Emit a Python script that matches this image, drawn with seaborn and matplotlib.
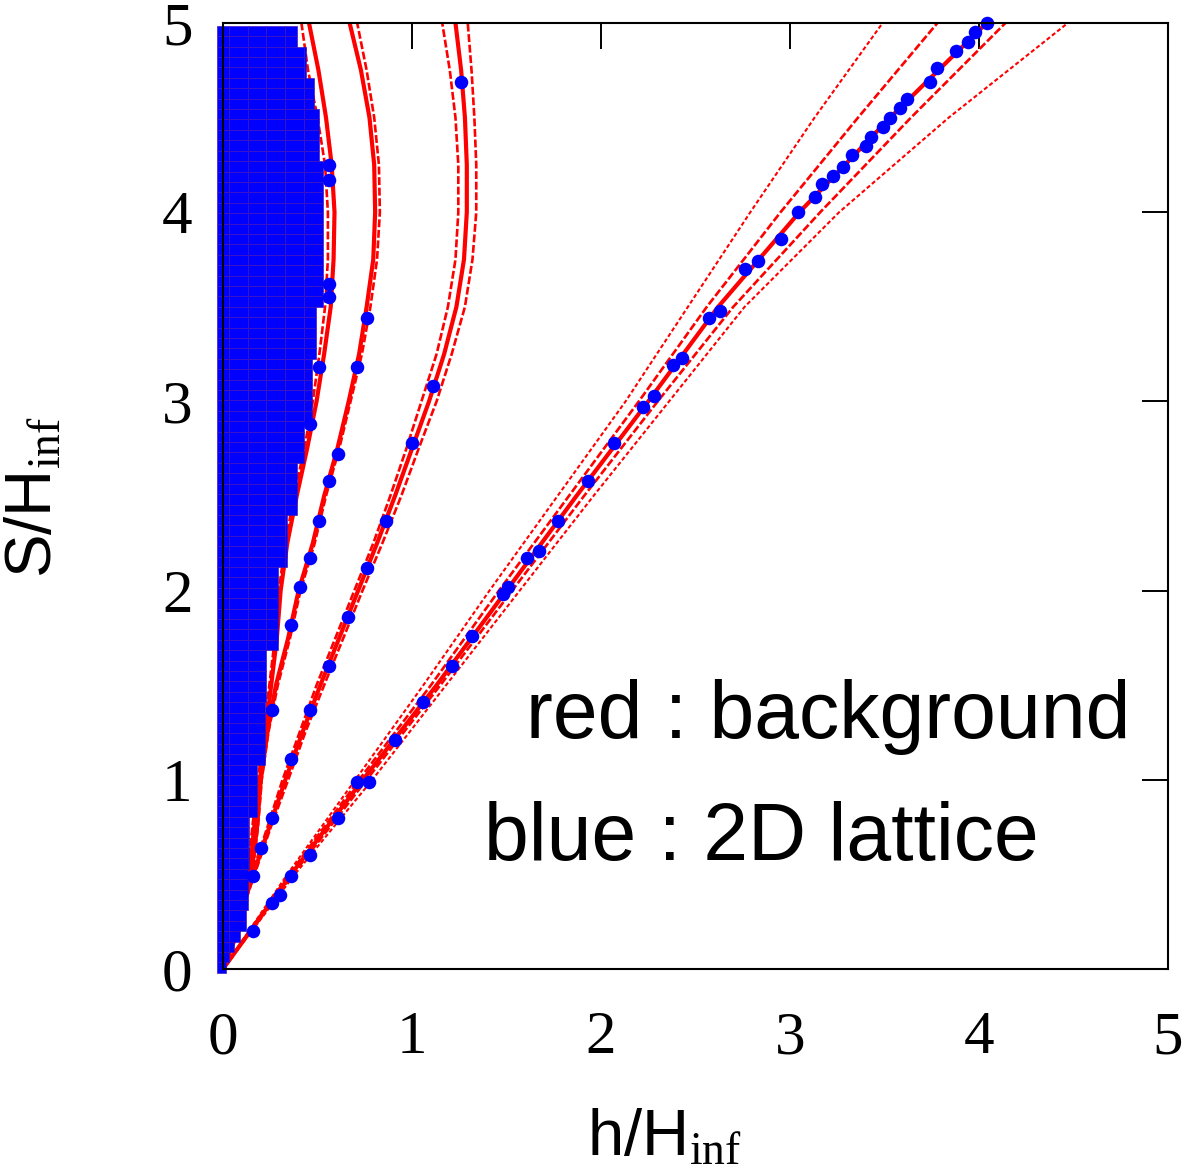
import numpy as np
import pandas as pd
import matplotlib
matplotlib.use("Agg")
import matplotlib.pyplot as plt
import seaborn as sns

# ---------------- data ----------------
S_fine = [0.0, 0.25, 0.5, 0.75, 1.0, 1.25, 1.5, 1.75, 2.0, 2.25, 2.5,
          2.75, 3.0, 3.25, 3.5, 3.75, 4.0, 4.25, 4.5, 4.75, 5.0]
S_coarse = [0.0, 0.5, 1.0, 1.5, 2.0, 2.5, 3.0, 3.5, 4.0, 4.5, 5.0]

# background (red) curves, h/H_inf at each S/H_inf
fam1_a = [0, 0.10, 0.14, 0.165, 0.195, 0.225, 0.255, 0.285, 0.305, 0.34, 0.39,
          0.445, 0.495, 0.535, 0.57, 0.585, 0.59, 0.575, 0.545, 0.505, 0.455]
fam1_b = [0, 0.09, 0.13, 0.155, 0.185, 0.215, 0.245, 0.275, 0.295, 0.33, 0.375,
          0.43, 0.475, 0.51, 0.54, 0.555, 0.555, 0.54, 0.50, 0.45, 0.415]
fam2_a = [0, 0.08, 0.15, 0.18, 0.20, 0.235, 0.28, 0.345, 0.40, 0.475, 0.535,
          0.605, 0.665, 0.72, 0.76, 0.795, 0.805, 0.80, 0.775, 0.73, 0.67]
fam2_b = [0, 0.085, 0.155, 0.185, 0.205, 0.24, 0.29, 0.355, 0.41, 0.485, 0.545,
          0.615, 0.675, 0.735, 0.78, 0.815, 0.83, 0.825, 0.80, 0.76, 0.71]
fam3_a = [0, 0.076, 0.152, 0.235, 0.315, 0.405, 0.495, 0.595, 0.695, 0.795, 0.885,
          0.97, 1.05, 1.13, 1.19, 1.23, 1.245, 1.245, 1.23, 1.20, 1.16]
fam3_b = [0, 0.08, 0.16, 0.245, 0.33, 0.42, 0.515, 0.615, 0.715, 0.815, 0.91,
          1.00, 1.09, 1.17, 1.235, 1.275, 1.29, 1.29, 1.28, 1.26, 1.23]
fam3_c = [0, 0.083, 0.167, 0.253, 0.345, 0.435, 0.535, 0.637, 0.738, 0.843, 0.943,
          1.035, 1.13, 1.21, 1.28, 1.32, 1.34, 1.34, 1.33, 1.315, 1.295]
fam4_a = [0, 0.34, 0.70, 1.06, 1.41, 1.77, 2.13, 2.46, 2.79, 3.13, 3.49]
fam4_b = [0, 0.35, 0.72, 1.10, 1.46, 1.83, 2.20, 2.56, 2.95, 3.36, 3.78]
fam4_c = [0, 0.36, 0.74, 1.13, 1.50, 1.87, 2.25, 2.62, 3.05, 3.53, 4.04]
fam4_d = [0, 0.37, 0.76, 1.15, 1.53, 1.91, 2.30, 2.70, 3.16, 3.64, 4.14]
fam4_e = [0, 0.38, 0.79, 1.18, 1.57, 1.96, 2.36, 2.76, 3.26, 3.84, 4.47]

# 2D lattice (blue) points lying on the curves
lat_dots_h = [
    # family 4
    0.16, 0.26, 0.30, 0.36, 0.46, 0.61, 0.71, 0.77, 0.91, 1.06, 1.21, 1.32,
    1.48, 1.51, 1.61, 1.67, 1.77, 1.93, 2.07, 2.22, 2.28, 2.38, 2.43, 2.57,
    2.63, 2.76, 2.83, 2.95, 3.04, 3.13, 3.17, 3.23, 3.28, 3.33, 3.40, 3.43,
    3.49, 3.53, 3.58, 3.62, 3.74, 3.78, 3.88, 3.94, 3.98, 4.04,
    # family 3
    0.16, 0.20, 0.26, 0.36, 0.46, 0.56, 0.66, 0.76, 0.86, 1.00, 1.11, 1.26,
    # family 2
    0.26, 0.36, 0.41, 0.46, 0.51, 0.56, 0.61, 0.71, 0.76,
    # family 1
    0.46, 0.51, 0.56, 0.56, 0.56, 0.56]
lat_dots_S = [
    0.20, 0.35, 0.39, 0.49, 0.60, 0.80, 0.99, 0.99, 1.21, 1.41, 1.60, 1.76,
    1.98, 2.02, 2.17, 2.21, 2.37, 2.58, 2.78, 2.97, 3.03, 3.19, 3.23, 3.44,
    3.48, 3.70, 3.74, 3.86, 4.00, 4.08, 4.15, 4.19, 4.24, 4.30, 4.35, 4.40,
    4.45, 4.50, 4.55, 4.60, 4.69, 4.76, 4.85, 4.90, 4.95, 5.00,
    0.49, 0.64, 0.80, 1.11, 1.37, 1.60, 1.86, 2.12, 2.37, 2.78, 3.08, 4.69,
    1.37, 1.82, 2.02, 2.17, 2.37, 2.58, 2.72, 3.18, 3.44,
    2.88, 3.18, 3.55, 3.62, 4.17, 4.25]

# filled 2D-lattice region: right edge (h) for bands of S up to S_top
lattice_band_S_top = [0.05, 0.10, 0.17, 0.22, 0.30, 0.51, 0.80, 1.10, 1.40,
                      1.70, 2.10, 2.40, 2.70, 2.90, 3.20, 3.50, 4.10, 4.29,
                      4.52, 4.73, 4.90, 5.03]
lattice_band_h_edge = [0.015, 0.03, 0.06, 0.09, 0.12, 0.13, 0.14, 0.18, 0.22,
                       0.23, 0.29, 0.34, 0.39, 0.43, 0.47, 0.49, 0.53, 0.53,
                       0.51, 0.48, 0.44, 0.39]

ticks = [0, 1, 2, 3, 4, 5]
tick_labels = ["0", "1", "2", "3", "4", "5"]
x_label = r"h/H$_{\mathrm{inf}}$"
y_label = r"S/H$_{\mathrm{inf}}$"
note_red = "red : background"
note_blue = "blue : 2D lattice"

# ---------------- style ----------------
sns.set_theme(style="white")
plt.rcParams.update({
    "font.family": ["Liberation Sans", "DejaVu Sans"],
    "mathtext.fontset": "custom",
    "mathtext.rm": "Liberation Serif",
    "mathtext.it": "Liberation Serif:italic",
    "axes.edgecolor": "black",
    "axes.linewidth": 1.5,
    "text.color": "black",
    "axes.labelcolor": "black",
    "xtick.color": "black",
    "ytick.color": "black",
})

RED = "#ff0000"
BLUE = "#0000ff"
GRID_PURPLE = "#4010b8"

fig = plt.figure(figsize=(11.95, 11.71), dpi=100)
ax = fig.add_axes([223 / 1195, 1 - 969 / 1171, 945 / 1195, 946 / 1171])

# red background curves
fine_lines = [(fam1_a, "main"), (fam1_b, "side"),
              (fam2_a, "main"), (fam2_b, "side"),
              (fam3_a, "side"), (fam3_b, "main"), (fam3_c, "side")]
coarse_lines = [(fam4_a, "thin"), (fam4_b, "side"), (fam4_c, "main"),
                (fam4_d, "side"), (fam4_e, "thin")]
styles = {"main": dict(linewidth=3.0, linestyle="-"),
          "side": dict(linewidth=1.9, linestyle=(0, (3, 1))),
          "thin": dict(linewidth=1.5, linestyle=(0, (2, 1.2)))}
for hv, st in fine_lines:
    sns.lineplot(x=hv, y=S_fine, sort=False, estimator=None, color=RED,
                 ax=ax, zorder=2, **styles[st])
for hv, st in coarse_lines:
    sns.lineplot(x=hv, y=S_coarse, sort=False, estimator=None, color=RED,
                 ax=ax, zorder=2, **styles[st])

# filled 2D lattice region drawn as lattice cells
row_h = 0.055
col_edges = [-0.03, 0.03, 0.13, 0.23, 0.33, 0.43, 0.53, 0.63]
band_top = np.array(lattice_band_S_top)
for y0 in np.arange(-0.02, 4.98, row_h):
    yc = y0 + row_h / 2
    idx = min(int(np.searchsorted(band_top, yc)), len(band_top) - 1)
    he = lattice_band_h_edge[idx]
    segs = []
    for c0, c1 in zip(col_edges[:-1], col_edges[1:]):
        if c0 >= he:
            break
        segs.append((c0, min(c1, he) - c0))
    ax.broken_barh(segs, (y0, row_h), facecolors=BLUE, edgecolors=GRID_PURPLE,
                   linewidth=0.45, zorder=3, clip_on=False)

# blue lattice points on curves
sns.scatterplot(x=lat_dots_h, y=lat_dots_S, color=BLUE, s=95, marker="o",
                linewidth=0, ax=ax, zorder=4, clip_on=False)

# axes
ax.set_xlim(0, 5)
ax.set_ylim(0, 5)
ax.set_xticks(ticks)
ax.set_yticks(ticks)
ax.set_xticklabels(tick_labels, family="Liberation Serif", fontsize=44)
ax.set_yticklabels(tick_labels, family="Liberation Serif", fontsize=44)
ax.tick_params(axis="both", direction="in", length=19, width=1.4,
               color="black", top=True, right=True)
ax.tick_params(axis="x", pad=30)
ax.tick_params(axis="y", pad=22)
for sp in ax.spines.values():
    sp.set_zorder(10)
    sp.set_linewidth(1.5)

ax.set_xlabel(x_label, fontsize=47)
ax.set_ylabel(y_label, fontsize=47)
ax.xaxis.set_label_coords((664 - 223) / 945, (969 - 1108) / 946)
ax.yaxis.set_label_coords((64 - 223) / 945, (969 - 497) / 946)

ax.text(4.80, 1.22, note_red, ha="right", va="baseline", fontsize=58,
        family="Liberation Sans", zorder=6)
ax.text(1.38, 0.577, note_blue, ha="left", va="baseline", fontsize=58,
        family="Liberation Sans", zorder=6)

fig.savefig("out.png", dpi=100)
